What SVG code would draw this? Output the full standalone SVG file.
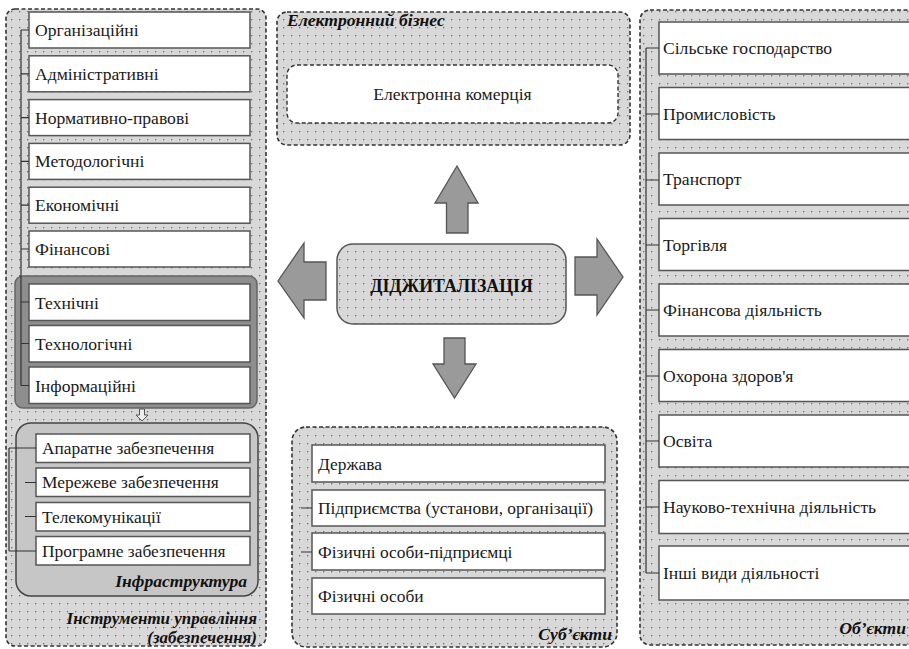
<svg xmlns="http://www.w3.org/2000/svg" width="909" height="649" viewBox="0 0 909 649">
<defs>
<pattern id="dots" width="8" height="8" patternUnits="userSpaceOnUse">
<rect width="8" height="8" fill="#d8d8d8"/>
<rect x="3" y="3" width="1.3" height="1.3" fill="#6e6e6e"/>
</pattern>
</defs>
<style>
.cont{fill:url(#dots);stroke:#333;stroke-width:1.6;stroke-dasharray:4 2.5}
.box{fill:#fff;stroke:#555;stroke-width:1.5}
text{font-family:"Liberation Serif","DejaVu Serif","Times New Roman",serif}
.t{font-size:17.6px;fill:#1a1a1a}
.ti{font-size:17.4px;fill:#1a1a1a}
.lbl{font-size:17.6px;font-weight:bold;font-style:italic;fill:#111}
.lbs{font-size:17px;font-weight:bold;font-style:italic;fill:#111}
.big{font-size:17.8px;font-weight:bold;fill:#111}
.ln{stroke:#333;stroke-width:1.2;fill:none}
.arr{fill:#9a9a9a;stroke:#555;stroke-width:1.3}
</style>

<g id="instruments">
<rect class="cont" x="6" y="9" width="260" height="637" rx="9"/>
<rect x="15" y="276" width="242" height="132" rx="8" fill="#8e8e8e" stroke="#666" stroke-width="1.5"/>
<rect x="16" y="423" width="242" height="173" rx="15" fill="#c6c6c6" stroke="#444" stroke-width="1.5"/>
<g id="n-org"><rect class="box" x="29" y="12" width="221" height="36"/><text class="t" x="35" y="36">Організаційні</text></g>
<g id="n-adm"><rect class="box" x="29" y="55.8" width="221" height="36"/><text class="t" x="35" y="79.8">Адміністративні</text></g>
<g id="n-norm"><rect class="box" x="29" y="99.6" width="221" height="36"/><text class="t" x="35" y="123.6">Нормативно-правові</text></g>
<g id="n-met"><rect class="box" x="29" y="143.4" width="221" height="36"/><text class="t" x="35" y="167.4">Методологічні</text></g>
<g id="n-eco"><rect class="box" x="29" y="187.2" width="221" height="36"/><text class="t" x="35" y="211.2">Економічні</text></g>
<g id="n-fin"><rect class="box" x="29" y="231" width="221" height="36"/><text class="t" x="35" y="255">Фінансові</text></g>
<g id="n-tech"><rect class="box" x="29" y="284" width="221" height="36.5"/><text class="t" x="35" y="308.5">Технічні</text></g>
<g id="n-techn"><rect class="box" x="29" y="325.5" width="221" height="36.5"/><text class="t" x="35" y="350">Технологічні</text></g>
<g id="n-inf"><rect class="box" x="29" y="367" width="221" height="36.5"/><text class="t" x="35" y="391.5">Інформаційні</text></g>
<g id="n-hw"><rect class="box" x="36" y="434" width="214" height="28.5"/><text class="ti" x="42" y="454">Апаратне забезпечення</text></g>
<g id="n-net"><rect class="box" x="36" y="468" width="214" height="28.5"/><text class="ti" x="42" y="488">Мережеве забезпечення</text></g>
<g id="n-tel"><rect class="box" x="36" y="502.5" width="214" height="28.5"/><text class="ti" x="42" y="522.5">Телекомунікації</text></g>
<g id="n-sw"><rect class="box" x="36" y="536.5" width="214" height="28.5"/><text class="ti" x="42" y="556.5">Програмне забезпечення</text></g>
<text class="lbl" x="247" y="587" text-anchor="end">Інфраструктура</text>
<text class="lbs" x="257" y="624" text-anchor="end">Інструменти управління</text>
<text class="lbs" x="257" y="643" text-anchor="end">(забезпечення)</text>
</g>

<g id="ebusiness">
<rect class="cont" x="277" y="12" width="353" height="133" rx="10"/>
<text class="lbl" x="287" y="26">Електронний бізнес</text>
<g id="n-ecom"><rect x="287" y="65" width="331" height="58" rx="10" fill="#fff" stroke="#333" stroke-width="1.4" stroke-dasharray="4 2.5"/>
<text class="t" x="452.5" y="99.5" text-anchor="middle">Електронна комерція</text></g>
</g>

<g id="digital">
<rect x="337" y="244" width="229" height="80" rx="16" fill="url(#dots)" stroke="#555" stroke-width="1.5"/>
<text class="big" x="451.5" y="292" text-anchor="middle">ДІДЖИТАЛІЗАЦІЯ</text>
</g>

<g id="subjects">
<rect class="cont" x="292" y="427" width="325" height="220" rx="14"/>
<g id="n-state"><rect class="box" x="312" y="445" width="293" height="37"/><text class="ti" x="318" y="469.5">Держава</text></g>
<g id="n-ent"><rect class="box" x="312" y="490" width="293" height="36"/><text class="ti" x="318" y="514">Підприємства (установи, організації)</text></g>
<g id="n-fop"><rect class="box" x="312" y="533" width="293" height="37"/><text class="ti" x="318" y="557.5">Фізичні особи-підприємці</text></g>
<g id="n-ind"><rect class="box" x="312" y="578" width="293" height="36"/><text class="ti" x="318" y="602">Фізичні особи</text></g>
<text class="lbl" x="612" y="640" text-anchor="end">Суб’єкти</text>
</g>

<g id="objects">
<rect class="cont" x="640" y="10" width="290" height="635" rx="10"/>
<g id="n-agr"><rect class="box" x="659" y="22" width="260" height="52"/><text class="t" x="663" y="54">Сільське господарство</text></g>
<g id="n-ind2"><rect class="box" x="659" y="87.5" width="260" height="52"/><text class="t" x="663" y="119.5">Промисловість</text></g>
<g id="n-tr"><rect class="box" x="659" y="153" width="260" height="52"/><text class="t" x="663" y="185">Транспорт</text></g>
<g id="n-trade"><rect class="box" x="659" y="218.5" width="260" height="52"/><text class="t" x="663" y="250.5">Торгівля</text></g>
<g id="n-finact"><rect class="box" x="659" y="284" width="260" height="52"/><text class="t" x="663" y="316">Фінансова діяльність</text></g>
<g id="n-health"><rect class="box" x="659" y="349.5" width="260" height="52"/><text class="t" x="663" y="381.5">Охорона здоров'я</text></g>
<g id="n-edu"><rect class="box" x="659" y="415" width="260" height="52"/><text class="t" x="663" y="447">Освіта</text></g>
<g id="n-sci"><rect class="box" x="659" y="480.5" width="260" height="53"/><text class="t" x="663" y="513">Науково-технічна діяльність</text></g>
<g id="n-oth"><rect class="box" x="659" y="546" width="260" height="54"/><text class="t" x="663" y="579">Інші види діяльності</text></g>
<text class="lbl" x="906" y="634" text-anchor="end">Об’єкти</text>
</g>

<g id="connectors">
<path class="ln" d="M21 30V385.5M21 30H29M21 73.8H29M21 117.6H29M21 161.4H29M21 205.2H29M21 249H29M21 302H29M21 343.5H29M21 385.5H29"/>
<path class="ln" d="M9 448V551M9 448H36M9 551H36M25 482.5H36M25 516.5H36"/>
<path class="ln" d="M301 508H312M301 552H312"/>
<path class="ln" d="M646 48V573M646 48H659M646 114H659M646 180H659M646 245H659M646 310H659M646 376H659M646 441H659M646 507H659M646 573H659"/>
<path d="M139.5 409H144.5V415H148L142 421L136 415H139.5Z" fill="#eee" stroke="#555" stroke-width="1"/>
<path class="arr" d="M446.5 233V203H435L457 166L478 203H468V233Z"/>
<path class="arr" d="M326 262V300H304V318L278 281L304 243V262Z"/>
<path class="arr" d="M575 257H597V239L623 277L597 315V295H575Z"/>
<path class="arr" d="M444 338H465V364H476L454.5 398L433 364H444Z"/>
</g>
</svg>
